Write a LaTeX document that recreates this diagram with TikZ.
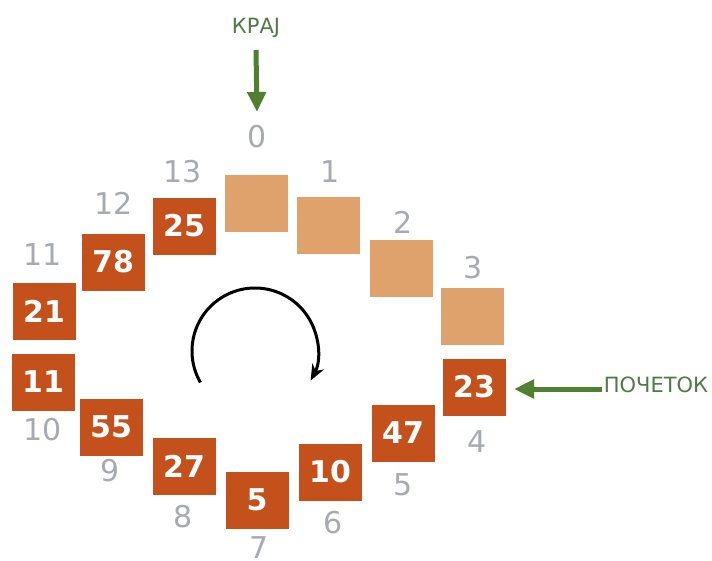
\documentclass[tikz,border=0pt]{standalone}
\usepackage{fontspec}
\setmainfont{DejaVu Sans}
\usetikzlibrary{arrows.meta}
\definecolor{slotfull}{HTML}{C4501C}
\definecolor{slotfree}{HTML}{DFA26C}
\definecolor{idxgray}{HTML}{A8AAB2}
\definecolor{markgreen}{HTML}{4F7F2F}
\definecolor{marktext}{HTML}{4E7A45}
\tikzset{
  slot/.style={minimum width=63pt, minimum height=57pt, inner sep=0pt},
  fullslot/.style={slot, fill=slotfull, text=white, font=\fontsize{30}{30}\selectfont\bfseries},
  freeslot/.style={slot, fill=slotfree},
  idx/.style={text=idxgray, inner sep=0pt, font=\fontsize{30}{30}\selectfont},
  marker/.style={text=marktext, inner sep=0pt, font=\fontsize{21}{21}\selectfont},
  pointer/.style={draw=markgreen, line width=5pt, -{Triangle[length=20pt,width=18pt]}},
  turn/.style={draw=black, line width=3pt, -{Stealth[length=16pt,width=13pt]}}
}
\begin{document}
\begin{tikzpicture}[x=1pt, y=-1pt]
\useasboundingbox (0,0) rectangle (712,560);
% circular buffer slots
\node[freeslot] (s0) at (256,203) {};
\node[freeslot] (s1) at (328,225) {};
\node[freeslot] (s2) at (401,268) {};
\node[freeslot] (s3) at (472,316) {};
\node[fullslot] (s4) at (474,387) {23};
\node[fullslot] (s5) at (403,433) {47};
\node[fullslot] (s6) at (330,472) {10};
\node[fullslot] (s7) at (257,500) {5};
\node[fullslot] (s8) at (184,466) {27};
\node[fullslot] (s9) at (111,427) {55};
\node[fullslot] (s10) at (43,382) {11};
\node[fullslot] (s11) at (44,311) {21};
\node[fullslot] (s12) at (113,262) {78};
\node[fullslot] (s13) at (184,226) {25};
% slot indices
\node[idx] (i0) at (257,137) {0};
\node[idx] (i1) at (330,172) {1};
\node[idx] (i2) at (403,222) {2};
\node[idx] (i3) at (473,268) {3};
\node[idx] (i4) at (477,442) {4};
\node[idx] (i5) at (403,485) {5};
\node[idx] (i6) at (333,523) {6};
\node[idx] (i7) at (259,548) {7};
\node[idx] (i8) at (183,517) {8};
\node[idx] (i9) at (110,471) {9};
\node[idx] (i10) at (43,430) {10};
\node[idx] (i11) at (43,255) {11};
\node[idx] (i12) at (114,203) {12};
\node[idx] (i13) at (183,172) {13};
% end and start markers
\node[marker] (kraj) at (256,28) {КРАЈ};
\node[marker] (pocetok) at (656,385) {ПОЧЕТОК};
\coordinate (krajtip) at (257,112);
\coordinate (pocetoktip) at (514,389);
\draw[pointer] (kraj.south |- 0,50) -- (krajtip);
\draw[pointer] (pocetok.west |- 0,389) ++(-2,0) -- (pocetoktip);
% direction of travel
\coordinate (hub) at (255,351);
\draw[turn] ([shift={(150:63)}]hub) arc[start angle=150, end angle=388, radius=63];
\end{tikzpicture}
\end{document}
